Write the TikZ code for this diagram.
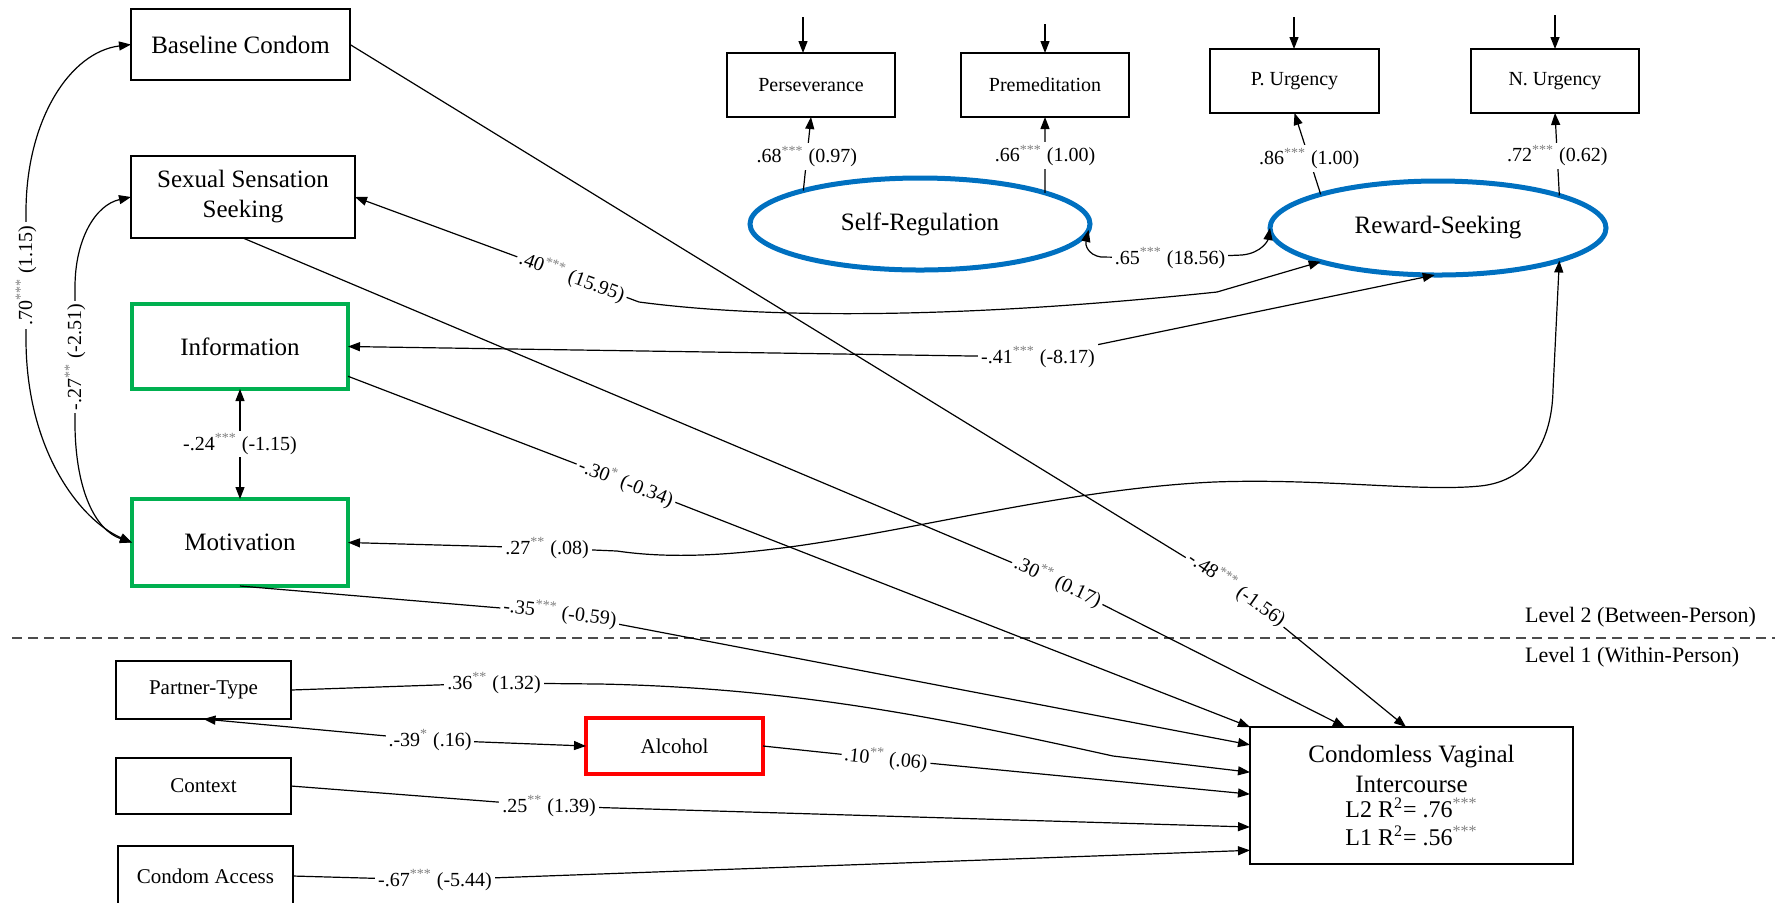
\documentclass[tikz,border=0pt]{standalone}
\usepackage{fontspec}
\setmainfont{Liberation Serif}
\usetikzlibrary{shapes.geometric,arrows.meta,calc}
\definecolor{bgreen}{RGB}{0,176,80}
\definecolor{bblue}{RGB}{0,112,192}
\newcommand{\sig}[1]{\textsuperscript{\textcolor{gray}{#1}}}
\begin{document}
\begin{tikzpicture}[x=0.5pt,y=-0.5pt,
 box/.style={draw,line width=1pt,inner sep=0pt,outer sep=0pt,align=center,font=\fontsize{12.5}{15}\selectfont},
 gbox/.style={box,draw=bgreen,line width=2pt},
 mbox/.style={draw,line width=1pt,inner sep=0pt,outer sep=0pt,font=\fontsize{10}{12}\selectfont,minimum width=84pt,minimum height=32pt},
 lbox/.style={draw,line width=1pt,inner sep=0pt,outer sep=0pt,font=\fontsize{10.5}{12}\selectfont,minimum width=87.5pt,minimum height=28pt},
 lat/.style={ellipse,draw=bblue,line width=2.5pt,inner sep=0pt,outer sep=0pt,font=\fontsize{12.5}{15}\selectfont},
 lab/.style={fill=white,inner sep=1.5pt,font=\fontsize{10}{12}\selectfont},
 con/.style={line width=0.6pt,-{Triangle[length=6pt,width=4.5pt]}},
 bi/.style={line width=0.6pt,{Triangle[length=6pt,width=4.5pt]}-{Triangle[length=6pt,width=4.5pt]}},
 levtext/.style={anchor=west,font=\fontsize{11}{13}\selectfont},
]
\useasboundingbox (0,0) rectangle (1775,902);

% Level 2 nodes
\node[box,minimum width=109.5pt,minimum height=35.5pt] (BC) at (240.5,44.5) {Baseline Condom};
\node[box,minimum width=112pt,minimum height=41pt] (SSS) at (243,197) {Sexual Sensation\\Seeking};
\node[gbox,minimum width=108pt,minimum height=42.5pt] (Info) at (240,346.5) {Information};
\node[gbox,minimum width=108pt,minimum height=43.5pt] (Mot) at (240,542.5) {Motivation};
\node[mbox] (Pers) at (811,85) {Perseverance};
\node[mbox] (Prem) at (1045,85) {Premeditation};
\node[mbox,minimum width=84.5pt] (PU) at (1294.5,81) {P. Urgency};
\node[mbox] (NU) at (1555,81) {N. Urgency};
\node[lat,minimum width=170pt,minimum height=46pt] (SR) at (920,224) {Self-Regulation};
\node[lat,minimum width=168pt,minimum height=47pt] (RS) at (1438,228) {Reward-Seeking};

% Level 1 nodes
\node[lbox,minimum height=29pt] (PT) at (203.5,690) {Partner-Type};
\node[lbox,draw=red,line width=2pt,minimum width=88.5pt] (Alc) at (674.5,746) {Alcohol};
\node[lbox] (Ctx) at (203.5,786) {Context};
\node[lbox,minimum height=30pt] (CA) at (205.5,876) {Condom Access};
\node[box,minimum width=161.5pt,minimum height=68.5pt] (CVI) at (1411.5,795.5)
  {Condomless Vaginal\\Intercourse\\[-2.5pt]{\fontsize{12}{13}\selectfont L2 R\textsuperscript{2}= .76\sig{***}}\\[-1pt]{\fontsize{12}{13}\selectfont L1 R\textsuperscript{2}= .56\sig{***}}};

% level separator
\draw[black!70,line width=0.6pt,dash pattern=on 5pt off 3pt] (12,638) -- (1775,638);
\node[levtext] (L2) at (1518,617) {Level 2 (Between-Person)};
\node[levtext] (L1) at (1518,657) {Level 1 (Within-Person)};

% residual arrows on indicators
\coordinate (e1) at (803,17);
\coordinate (e2) at (1045,24);
\coordinate (e3) at (1294,17);
\coordinate (e4) at (1555,15);
\draw[con] (e1) -- (e1 |- Pers.north);
\draw[con] (e2) -- (e2 |- Prem.north);
\draw[con] (e3) -- (e3 |- PU.north);
\draw[con] (e4) -- (e4 |- NU.north);

% loadings
\draw[con] (SR.164.6) -- node[lab,pos=0.46]{.68\sig{***} (0.97)} (Pers.south);
\draw[con] (SR.14.6) -- node[lab,pos=0.49]{.66\sig{***} (1.00)} (Prem.south);
\draw[con] (RS.164.1) -- node[lab,pos=0.44]{.86\sig{***} (1.00)} (PU.south);
\draw[con] (RS.15.5) -- node[lab,pos=0.48]{.72\sig{***} (0.62)} (NU.south);

% latent covariance
\draw[bi] (SR.-2) .. controls (1085,245) and (1088,255) .. (1101,257) -- (1170,258) node[lab]{.65\sig{***} (18.56)} -- (1242,255) .. controls (1262,253) and (1268,240) .. (RS.west);

% covariances with latent
\draw[bi] (SSS.east) -- (572,277) node[lab,rotate=-20]{.40\sig{***} (15.95)} -- (639,302) .. controls (760,318) and (950,320) .. (1217,292) -- (RS.-164.7);
\draw[bi] (Info.east) -- (1038,357) node[lab]{-.41\sig{***} (-8.17)} -- (RS.266);
\draw[bi] (Mot.east) -- (547,548) node[lab]{.27\sig{**} (.08)} -- (617,551) .. controls (780,575) and (1000,492) .. (1214,482) .. controls (1320,478) and (1420,492) .. (1480,486) .. controls (1530,481) and (1552,440) .. (1553,390) -- (RS.-15.5);
\draw[bi] (Info.south) -- node[lab]{-.24\sig{***} (-1.15)} (Mot.north);

% left covariances
\draw[bi] (Mot.west) .. controls (80,520) and (26,450) .. (26,339) -- node[lab,rotate=90]{.70\sig{***} (1.15)} (26,212) .. controls (26,120) and (70,52) .. (BC.west);
\draw[bi] (Mot.west) .. controls (95,530) and (76,490) .. (75,427) -- node[lab,rotate=90]{-.27\sig{**} (-2.51)} (75,287) .. controls (75,240) and (95,205) .. (SSS.west);

% level 2 paths to outcome
\draw[con] (BC.east) -- (1237,589) node[lab,rotate=-35]{-.48\sig{***} (-1.56)} -- ($(CVI.north west)!0.483!(CVI.north east)$);
\draw[con] (SSS.south) -- (1058,582) node[lab,rotate=-25]{.30\sig{**} (0.17)} -- ($(CVI.north west)!0.294!(CVI.north east)$);
\draw[con] ($(Info.north east)!0.85!(Info.south east)$) -- (626,483) node[lab,rotate=-21]{-.30\sig{*} (-0.34)} -- (CVI.north west);
\draw[con] (Mot.south) -- (560,613) node[lab,rotate=-7]{-.35\sig{***} (-0.59)} -- ($(CVI.north west)!0.13!(CVI.south west)$);

% level 1 paths
\draw[con] (PT.east) -- (494,683) node[lab]{.36\sig{**} (1.32)} -- (600,684) .. controls (800,688) and (950,720) .. (1113,756) -- ($(CVI.north west)!0.33!(CVI.south west)$);
\draw[bi] (PT.south) -- (430,740) node[lab]{.-39\sig{*} (.16)} -- (Alc.west);
\draw[con] (Alc.east) -- (886,759) node[lab,rotate=-6]{.10\sig{**} (.06)} -- ($(CVI.north west)!0.49!(CVI.south west)$);
\draw[con] (Ctx.east) -- (549,806) node[lab]{.25\sig{**} (1.39)} -- ($(CVI.north west)!0.73!(CVI.south west)$);
\draw[con] (CA.east) -- (435,880) node[lab]{-.67\sig{***} (-5.44)} -- ($(CVI.north west)!0.90!(CVI.south west)$);
\end{tikzpicture}
\end{document}
